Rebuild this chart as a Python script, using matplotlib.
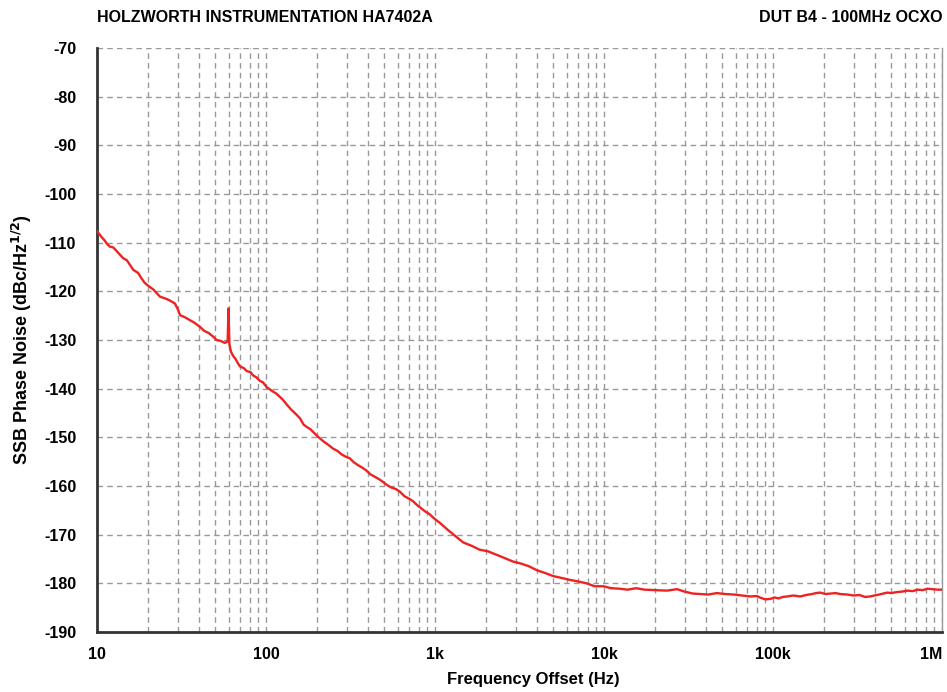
import matplotlib
matplotlib.use("Agg")
import matplotlib.pyplot as plt
from matplotlib.ticker import FixedLocator, FixedFormatter, NullFormatter

plt.rcParams['font.family'] = ['Liberation Sans', 'DejaVu Sans']
plt.rcParams['axes.unicode_minus'] = False

freq_hz = [10, 10.5, 11.0, 11.5, 11.9, 12.5, 13.2, 14.3, 15.0, 15.7, 16.4, 17.5, 18.3, 19.2, 20,
           21.5, 23.6, 25.5, 27, 28.9, 30, 31, 33, 35, 37.5, 40.7, 43, 46, 49, 51, 54, 57, 59.3,
           60, 60.7, 62, 64, 66, 68, 70, 74, 77, 81, 84, 88, 92, 96, 101, 106, 110, 115, 121,
           126, 133, 140, 149, 159, 167, 175, 184, 194, 205, 220, 235, 249, 265,
           280, 297, 313, 330, 350, 370, 392, 415, 440, 467, 494, 520, 550, 585, 621, 660, 700,
           740, 782, 830, 880, 930, 983, 1080, 1180, 1320, 1470, 1650, 1840, 2050,
           2300, 2580, 2880, 3200, 3600, 4000, 4500, 5000, 5600, 6300, 7000, 7900, 8800, 9900,
           11000, 12300, 13800, 15500, 17400, 20000, 23600, 27000, 30000, 33500, 37000,
           41500, 46600, 52000, 58500, 65500, 73500, 80000, 85000, 90000, 96500, 102000, 108000,
           114000, 121000, 132000, 145000, 157000, 170000, 180000, 190000, 205000, 220000,
           235000, 250000, 275000, 300000, 325000, 350000, 375000, 400000, 425000, 450000,
           475000, 500000, 540000, 580000, 625000, 670000, 720000, 770000, 820000, 880000, 940000, 1000000]
ssb_dbc = [-107.6, -108.6, -109.4, -110.3, -110.8, -111.0, -111.9, -113.2, -113.6, -114.6, -115.6, -116.2, -117.3, -118.3, -118.8,
           -119.6, -121.1, -121.5, -121.9, -122.5, -123.6, -124.9, -125.3, -125.8, -126.4, -127.3, -128.1, -128.6, -129.4, -130.0, -130.2, -130.6, -130.3,
           -123.5, -130.8, -132.4, -133.3, -133.9, -134.7, -135.4, -135.8, -136.4, -136.6, -137.3, -137.7, -138.4, -138.7, -139.7, -140.2, -140.6, -141.0, -141.7,
           -142.3, -143.3, -144.2, -145.1, -146.1, -147.4, -147.9, -148.4, -149.2, -150.0, -150.9, -151.6, -152.3, -152.8,
           -153.5, -154.0, -154.3, -155.1, -155.7, -156.2, -156.8, -157.6, -158.1, -158.6, -159.2, -159.8, -160.3, -160.6, -161.2, -162.1, -162.6,
           -163.1, -163.9, -164.6, -165.3, -165.8, -166.6, -167.7, -168.9, -170.3, -171.6, -172.3, -173.1, -173.4,
           -174.1, -174.8, -175.5, -175.9, -176.5, -177.3, -177.9, -178.5, -178.9, -179.3, -179.6, -180.0, -180.6, -180.6,
           -181.0, -181.1, -181.3, -181.0, -181.3, -181.4, -181.5, -181.2, -181.7, -182.1, -182.2,
           -182.3, -182.0, -182.2, -182.3, -182.5, -182.7, -182.6, -183.0, -183.3, -183.2, -182.9, -183.1,
           -182.8, -182.7, -182.5, -182.7, -182.4, -182.2, -182.0, -181.9, -182.2, -182.1,
           -182.0, -182.2, -182.3, -182.5, -182.4, -182.8, -182.7, -182.5, -182.3, -182.1,
           -181.9, -182.0, -181.8, -181.7, -181.5, -181.6, -181.3, -181.4, -181.1, -181.2, -181.3, -181.3]

xtick_vals = [10, 100, 1000, 10000, 100000, 1000000]
xtick_labels = ['10', '100', '1k', '10k', '100k', '1M']
ytick_vals = list(range(-190, -69, 10))

fig = plt.figure(figsize=(9.47, 6.92), dpi=100)
ax = fig.add_axes([97/947, 1-632/692, 845/947, 584/692])

ax.semilogx(freq_hz, ssb_dbc, color='#ee2222', lw=1.7, zorder=3)
ax.set_xlim(10, 1e6)
ax.set_ylim(-190, -70)

ax.xaxis.set_major_locator(FixedLocator(xtick_vals))
ax.xaxis.set_major_formatter(FixedFormatter(xtick_labels))
minor = [m * 10**d for d in range(1, 6) for m in range(2, 10)]
ax.xaxis.set_minor_locator(FixedLocator(minor))
ax.xaxis.set_minor_formatter(NullFormatter())
ax.set_yticks(ytick_vals)

ax.grid(True, which='both', axis='x', color='#999999', ls=(0, (4, 3)), lw=1.0)
ax.grid(True, which='major', axis='y', color='#999999', ls=(0, (4, 3)), lw=1.0)
ax.tick_params(which='both', length=0)
ax.tick_params(axis='y', pad=15)
ax.tick_params(axis='x', pad=11)
for lab in ax.get_xticklabels() + ax.get_yticklabels():
    lab.set_fontweight('bold')
    lab.set_fontsize(11.5)
ax.xaxis.get_major_ticks()[-1].label1.set_horizontalalignment('right')

ax.spines['left'].set_color('#333333')
ax.spines['left'].set_linewidth(2)
ax.spines['bottom'].set_color('#333333')
ax.spines['bottom'].set_linewidth(2)
ax.spines['top'].set_visible(False)
ax.spines['right'].set_color('#999999')
ax.spines['right'].set_linewidth(1)

ax.set_xlabel('Frequency Offset (Hz)', fontsize=12, fontweight='bold')
ax.xaxis.set_label_coords((533-97)/845, -(672-632)/584)
ax.set_ylabel('SSB Phase Noise (dBc/Hz$^{\\mathbf{1/2}}$)', fontsize=13, fontweight='bold')
ax.yaxis.set_label_coords(-(97-34)/845, 0.5)

fig.text(97/947, 1-18/692, 'HOLZWORTH INSTRUMENTATION HA7402A', fontsize=11.5, fontweight='bold',
         ha='left', va='center')
fig.text(942/947, 1-18/692, 'DUT B4 - 100MHz OCXO', fontsize=11.5, fontweight='bold',
         ha='right', va='center')

fig.savefig('out.png', dpi=100, facecolor='white')
